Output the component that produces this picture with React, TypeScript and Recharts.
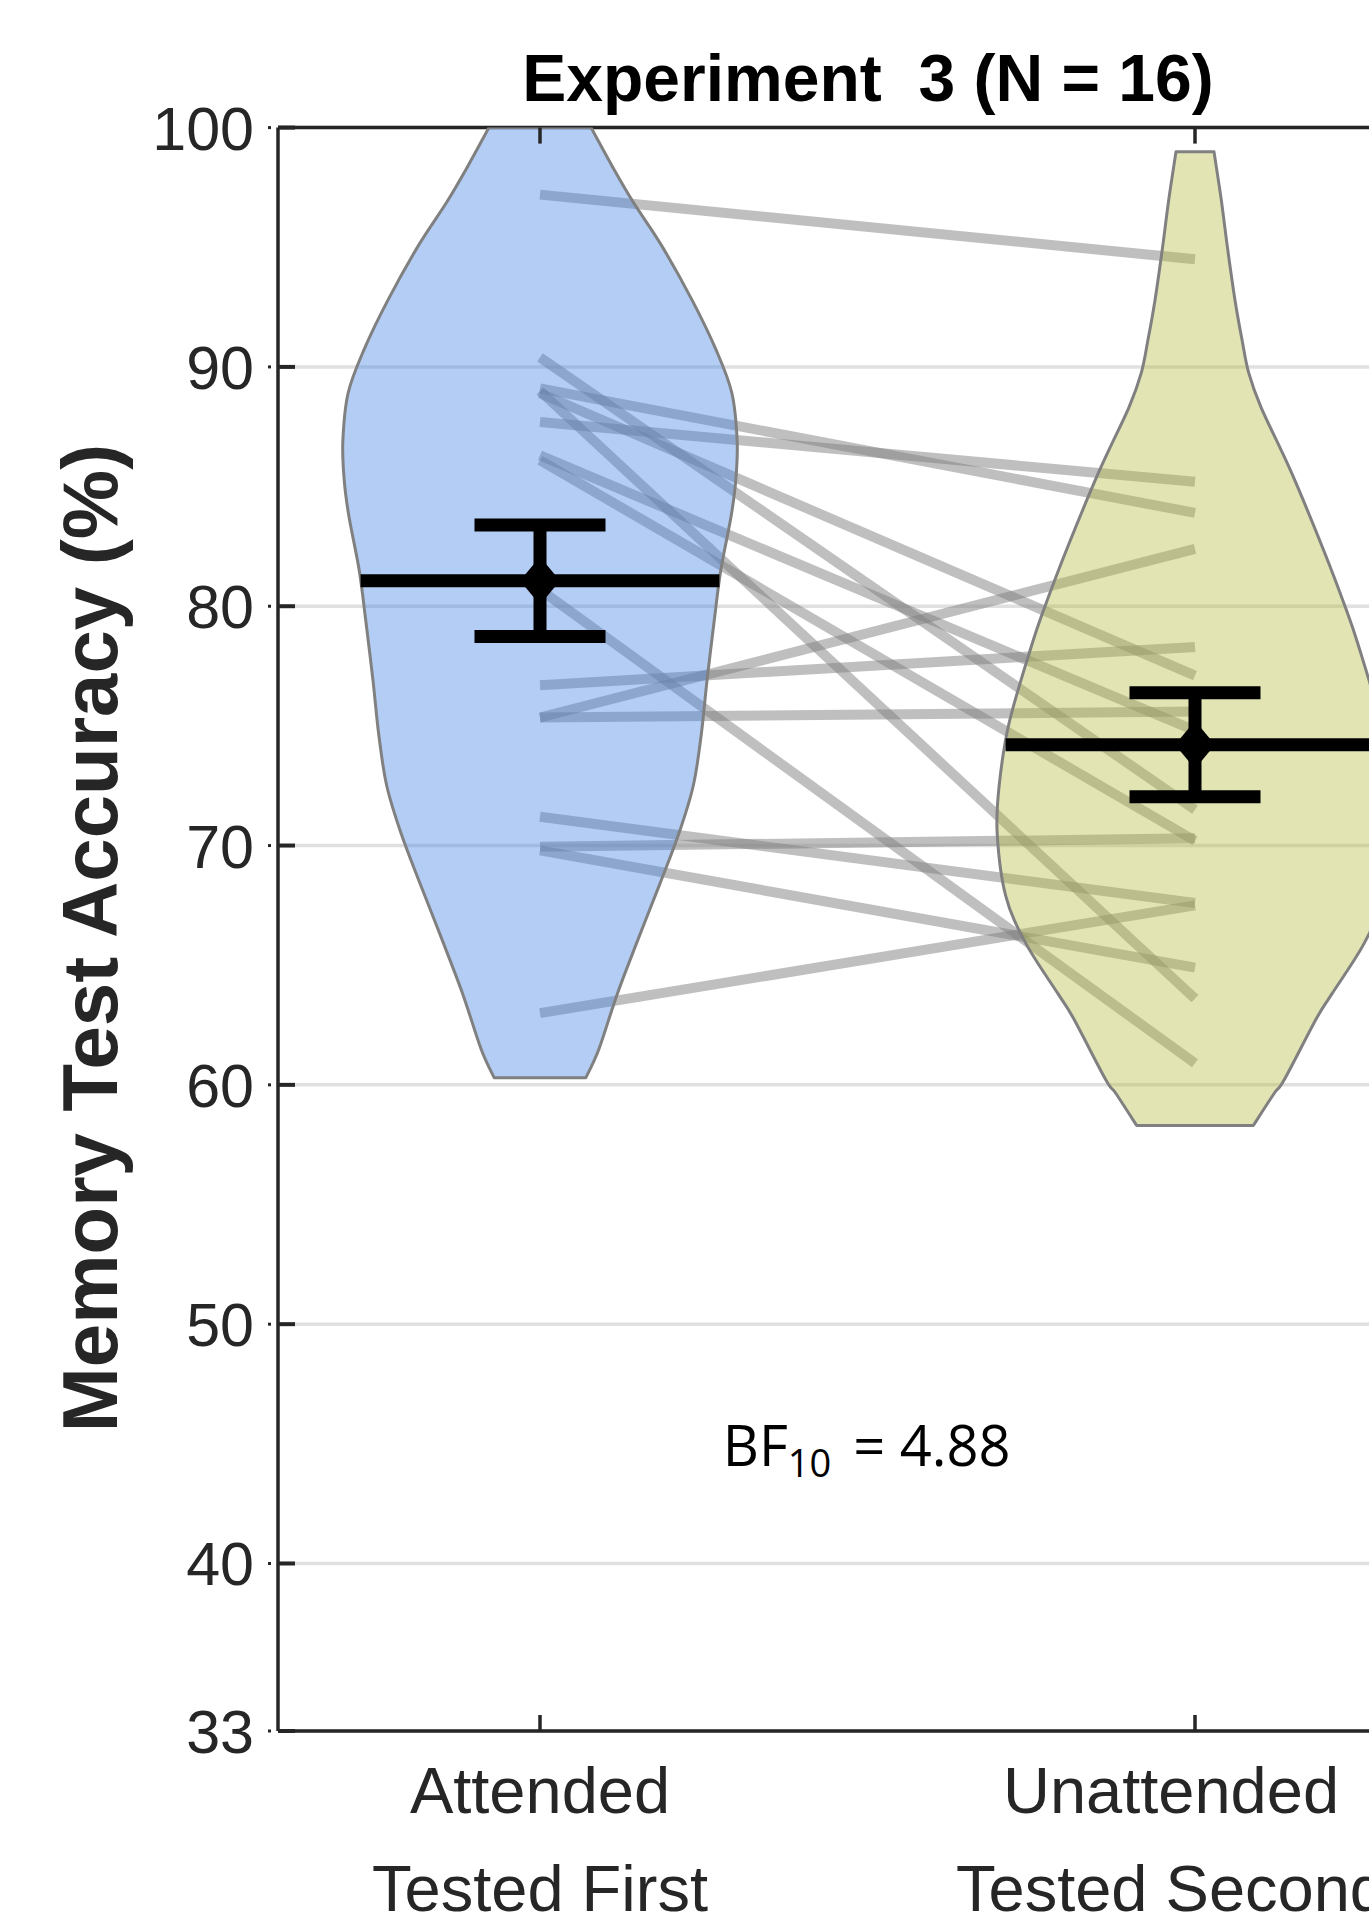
import React from 'react';
import { ComposedChart, XAxis, YAxis, Scatter, CartesianGrid } from 'recharts';

// ---------------- data ----------------
const categories = ['Attended', 'Unattended'];
const categorySubLabels = ['Tested First', 'Tested Second'];
const categoryPositions = [1, 2];

// paired subject scores (same index = same participant)
const attendedScores = [97.2, 90.4, 89.1, 89.0, 88.9, 87.7, 86.3, 86.1, 80.7, 76.7, 75.35, 75.35, 71.2, 69.95, 69.8, 63.0];
const unattendedScores = [94.5, 71.5, 83.9, 63.6, 77.1, 85.2, 74.8, 70.2, 60.9, 78.3, 82.4, 75.6, 67.6, 70.3, 64.9, 67.5];

const groupMeans = [81.06, 74.21];
const groupSEM = [2.33, 2.17];

// violin density profiles: accuracy level and half width (in category units)
const attendedViolinLevels = [100, 98.4, 96.9, 95.1, 92.8, 90.7, 88.9, 86.9, 85.3, 83.8, 81.5, 79.4, 76.9, 74.6, 72.5, 70.5, 68.4, 66.1, 63.8, 61.5, 60.3];
const attendedViolinHalfWidth = [0.078, 0.11, 0.142, 0.185, 0.232, 0.269, 0.293, 0.301, 0.299, 0.292, 0.276, 0.266, 0.255, 0.246, 0.234, 0.212, 0.183, 0.15, 0.118, 0.09, 0.07];
const unattendedViolinLevels = [98.99, 97.0, 94.9, 92.8, 91.1, 89.75, 88.3, 85.6, 82.3, 80.0, 78.4, 75.1, 72.5, 70.5, 67.9, 65.9, 63.8, 62.8, 60.2, 59.65, 58.3];
const unattendedViolinHalfWidth = [0.029, 0.04, 0.05, 0.061, 0.072, 0.082, 0.101, 0.147, 0.197, 0.229, 0.249, 0.284, 0.299, 0.302, 0.289, 0.258, 0.209, 0.186, 0.136, 0.121, 0.089];

const yTicks = [33, 40, 50, 60, 70, 80, 90, 100];
const xTicks = [1, 2];
const xDomain = [0.6, 2.4];
const yDomain = [33, 100];

const titleText = 'Experiment  3 (N = 16)';
const yLabelText = 'Memory Test Accuracy (%)';
const bfMain = 'BF';
const bfSub = '10';
const bfRest = '= 4.88';
const bfPosition = [{ x: 1.279, y: 44.07 }];

// ---------------- styles ----------------
const W = 1477;
const H = 1924;
const AXIS = '#262626';
const FONT = "'Liberation Sans', Arial, Helvetica, sans-serif";
const violinFills = ['#4182e6', '#b9bb44'];
const violinFillOpacity = 0.4;
const CAP_HALF = 0.1;
const labelDx = [0, -24];
const BAR_W = 13;

const violins = [
  { c: categoryPositions[0], levels: attendedViolinLevels, hw: attendedViolinHalfWidth },
  { c: categoryPositions[1], levels: unattendedViolinLevels, hw: unattendedViolinHalfWidth },
];

function violinPolygon(center: number, levels: number[], hw: number[]) {
  const left = levels.map((y, i) => ({ x: center - hw[i], y }));
  const right = levels.map((y, i) => ({ x: center + hw[i], y })).reverse();
  return [...left, ...right, left[0]];
}

function halfWidthAt(levels: number[], hw: number[], v: number) {
  for (let i = 0; i < levels.length - 1; i++) {
    const a = levels[i];
    const b = levels[i + 1];
    if (v <= a && v >= b) {
      const t = (a - v) / (a - b);
      return hw[i] + t * (hw[i + 1] - hw[i]);
    }
  }
  return hw[hw.length - 1];
}

// smooth outline through the scale-mapped points handed over by Scatter
function catmull(pts: { x: number; y: number }[]) {
  let d = '';
  for (let i = 0; i < pts.length - 1; i++) {
    const p0 = pts[i - 1] || pts[i];
    const p1 = pts[i];
    const p2 = pts[i + 1];
    const p3 = pts[i + 2] || p2;
    const c1x = p1.x + (p2.x - p0.x) / 6;
    const c1y = p1.y + (p2.y - p0.y) / 6;
    const c2x = p2.x - (p3.x - p1.x) / 6;
    const c2y = p2.y - (p3.y - p1.y) / 6;
    d += ` C${c1x},${c1y} ${c2x},${c2y} ${p2.x},${p2.y}`;
  }
  return d;
}

const SmoothViolin = (props: any) => {
  const { points, violinFill, violinOpacity, violinStroke, violinStrokeWidth } = props;
  if (!points || points.length < 4) return null;
  const n = Math.floor((points.length - 1) / 2);
  const left = points.slice(0, n);
  const right = points.slice(n, 2 * n);
  const d = `M${left[0].x},${left[0].y}` + catmull(left) + ` L${right[0].x},${right[0].y}` + catmull(right) + ' Z';
  return (
    <path
      d={d}
      fill={violinFill}
      fillOpacity={violinOpacity}
      stroke={violinStroke}
      strokeWidth={violinStrokeWidth}
      strokeLinejoin="round"
    />
  );
};

const NoShape = () => <g />;

const YTick = (props: any) => {
  const { x, y, payload } = props;
  const ax = x + 24;
  return (
    <g>
      <line x1={ax} x2={ax + 17} y1={y} y2={y} stroke={AXIS} strokeWidth={4} />
      <rect x={ax - 10} y={y - 1.5} width={3} height={3} fill={AXIS} />
      <text x={x} y={y} dy="0.36em" textAnchor="end" fontSize={61} fill={AXIS} fontFamily={FONT}>
        {payload.value}
      </text>
    </g>
  );
};

const XTick = (props: any) => {
  const { x, y, payload } = props;
  const i = categoryPositions.indexOf(payload.value);
  return (
    <g>
      <line x1={x} x2={x} y1={y} y2={y - 16} stroke={AXIS} strokeWidth={3.5} />
      <text x={x + labelDx[i]} y={y + 82} textAnchor="middle" fontSize={65} fill={AXIS} fontFamily={FONT}>
        {categories[i]}
      </text>
      <text x={x + labelDx[i]} y={y + 180} textAnchor="middle" fontSize={65} fill={AXIS} fontFamily={FONT}>
        {categorySubLabels[i]}
      </text>
    </g>
  );
};

const TopTick = (props: any) => {
  const { x, y } = props;
  return <line x1={x} x2={x} y1={y} y2={y + 16} stroke={AXIS} strokeWidth={3.5} />;
};

const Diamond = (props: any) => {
  const { cx, cy } = props;
  const hw = 20;
  const hh = 24;
  return <path d={`M${cx},${cy - hh} L${cx + hw},${cy} L${cx},${cy + hh} L${cx - hw},${cy} Z`} fill="#000" />;
};

const BFText = (props: any) => {
  const { cx, cy } = props;
  return (
    <text x={cx} y={cy} fontSize={56} fill="#000" fontFamily="'Open Sans', 'Noto Sans', sans-serif">
      {bfMain}
      <tspan dy={11} fontSize={38}>{bfSub}</tspan>
      <tspan dy={-11} dx={22} fontSize={56}>{bfRest}</tspan>
    </text>
  );
};

export default function App() {
  const pairs = attendedScores.map((a, i) => [
    { x: categoryPositions[0], y: a },
    { x: categoryPositions[1], y: unattendedScores[i] },
  ]);

  return (
    <div style={{ position: 'absolute', left: 0, top: 0, width: 1369, height: 1924, overflow: 'hidden', background: '#fff' }}>
      <ComposedChart width={W} height={H} margin={{ top: 107.6, right: 20, bottom: 133, left: 178 }}>
        <CartesianGrid vertical={false} stroke="#e0e0e0" strokeWidth={3.5} />
        <XAxis
          xAxisId={0}
          type="number"
          dataKey="x"
          domain={xDomain}
          ticks={xTicks}
          interval={0}
          allowDataOverflow
          height={60}
          tickSize={0}
          tickMargin={0}
          tickLine={false}
          tick={<XTick />}
          axisLine={{ stroke: AXIS, strokeWidth: 3.5 }}
        />
        <XAxis
          xAxisId="top"
          orientation="top"
          type="number"
          dataKey="x"
          domain={xDomain}
          ticks={xTicks}
          interval={0}
          allowDataOverflow
          height={20}
          tickSize={0}
          tickMargin={0}
          tickLine={false}
          tick={<TopTick />}
          axisLine={{ stroke: AXIS, strokeWidth: 3.5 }}
        />
        <YAxis
          type="number"
          dataKey="y"
          domain={yDomain}
          ticks={yTicks}
          interval={0}
          allowDataOverflow
          width={100}
          tickSize={0}
          tickMargin={24}
          tickLine={false}
          tick={<YTick />}
          axisLine={{ stroke: AXIS, strokeWidth: 3.5 }}
        />

        {pairs.map((p, i) => (
          <Scatter
            key={`pair-${i}`}
            data={p}
            isAnimationActive={false}
            shape={NoShape}
            line={{ stroke: '#808080', strokeOpacity: 0.5, strokeWidth: 10, fill: 'none' }}
          />
        ))}

        {violins.map((v, i) => (
          <Scatter
            key={`violin-${i}`}
            data={violinPolygon(v.c, v.levels, v.hw)}
            isAnimationActive={false}
            shape={NoShape}
            line={
              <SmoothViolin
                violinFill={violinFills[i]}
                violinOpacity={violinFillOpacity}
                violinStroke="#808080"
                violinStrokeWidth={3}
              />
            }
          />
        ))}

        {violins.map((v, i) => {
          const m = groupMeans[i];
          const h = halfWidthAt(v.levels, v.hw, m);
          return (
            <Scatter
              key={`mean-${i}`}
              data={[{ x: v.c - h, y: m }, { x: v.c + h, y: m }]}
              isAnimationActive={false}
              shape={NoShape}
              line={{ stroke: '#000', strokeWidth: BAR_W, fill: 'none' }}
            />
          );
        })}

        {violins.map((v, i) => (
          <Scatter
            key={`stem-${i}`}
            data={[{ x: v.c, y: groupMeans[i] - groupSEM[i] }, { x: v.c, y: groupMeans[i] + groupSEM[i] }]}
            isAnimationActive={false}
            shape={NoShape}
            line={{ stroke: '#000', strokeWidth: BAR_W, fill: 'none' }}
          />
        ))}
        {violins.map((v, i) => (
          <Scatter
            key={`capU-${i}`}
            data={[{ x: v.c - CAP_HALF, y: groupMeans[i] + groupSEM[i] }, { x: v.c + CAP_HALF, y: groupMeans[i] + groupSEM[i] }]}
            isAnimationActive={false}
            shape={NoShape}
            line={{ stroke: '#000', strokeWidth: BAR_W, fill: 'none' }}
          />
        ))}
        {violins.map((v, i) => (
          <Scatter
            key={`capL-${i}`}
            data={[{ x: v.c - CAP_HALF, y: groupMeans[i] - groupSEM[i] }, { x: v.c + CAP_HALF, y: groupMeans[i] - groupSEM[i] }]}
            isAnimationActive={false}
            shape={NoShape}
            line={{ stroke: '#000', strokeWidth: BAR_W, fill: 'none' }}
          />
        ))}

        <Scatter
          data={categoryPositions.map((c, i) => ({ x: c, y: groupMeans[i] }))}
          isAnimationActive={false}
          shape={Diamond}
        />

        <Scatter data={bfPosition} isAnimationActive={false} shape={BFText} />
      </ComposedChart>

      <svg width={1369} height={1924} style={{ position: 'absolute', left: 0, top: 0, pointerEvents: 'none' }}>
        <text
          x={868}
          y={100.6}
          textAnchor="middle"
          fontSize={66}
          fontWeight="bold"
          fill="#000"
          fontFamily={FONT}
          style={{ whiteSpace: 'pre' }}
        >
          {titleText}
        </text>
        <text
          transform="translate(117,938) rotate(-90)"
          textAnchor="middle"
          fontSize={78}
          fontWeight="bold"
          fill={AXIS}
          fontFamily={FONT}
        >
          {yLabelText}
        </text>
      </svg>
    </div>
  );
}
